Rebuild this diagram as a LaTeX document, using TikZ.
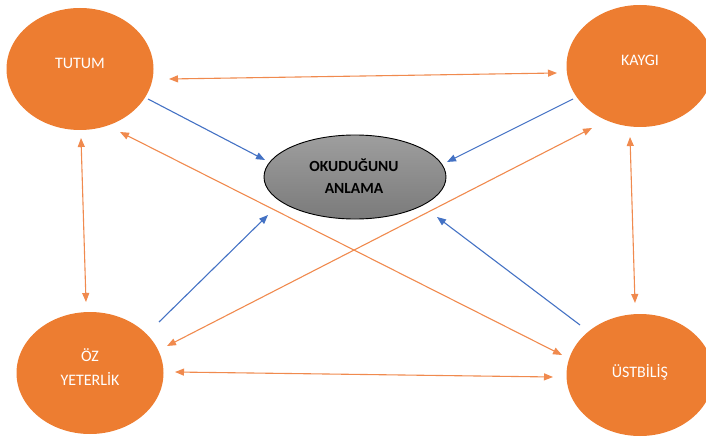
\documentclass[tikz,border=0pt]{standalone}
\usepackage{fontspec}
\setmainfont{Carlito}
\usetikzlibrary{shapes.geometric,arrows.meta}
\definecolor{offorange}{HTML}{ED7D31}
\definecolor{lineorange}{HTML}{F08A4E}
\definecolor{offblue}{HTML}{4472C4}
\tikzset{
  x=1pt,y=1pt,
  bigell/.style={ellipse, fill=offorange, draw=none, minimum width=147pt, minimum height=122pt, inner sep=0pt},
  lbl/.style={text=white, font=\fontsize{16}{24}\selectfont, align=center, inner sep=0pt},
  ctrell/.style={ellipse, draw=black, line width=0.9pt, top color=black!38, bottom color=black!52, minimum width=182pt, minimum height=84pt, inner sep=0pt},
  ctrlbl/.style={text=black, font=\bfseries\fontsize{15.5}{22}\selectfont, align=center, inner sep=0pt},
  dbl/.style={draw=lineorange, line width=1.1pt, {Triangle[length=9pt,width=7pt]}-{Triangle[length=9pt,width=7pt]}},
  blu/.style={draw=offblue, line width=1.1pt, -{Triangle[length=9pt,width=7pt]}}
}
\begin{document}
\begin{tikzpicture}
\useasboundingbox (0,0) rectangle (706,437);
% main nodes
\node[bigell] (tutum) at (80,368) {};
\node[bigell] (kaygi) at (640,371) {};
\node[bigell] (oz) at (90,64) {};
\node[bigell] (ust) at (640,62) {};
\node[ctrell] (ctr) at (355,260) {};
% labels
\node[lbl] (tutumT) at (80,374) {TUTUM};
\node[lbl] (kaygiT) at (640,377) {KAYGI};
\node[lbl] (ozT) at (90,70) {ÖZ\\YETERLİK};
\node[lbl] (ustT) at (640,65) {ÜSTBİLİŞ};
\node[ctrlbl] (ctrT) at (354,261) {OKUDUĞUNU\\ANLAMA};
% arrow end points
\coordinate (tk1) at (169,358); \coordinate (tk2) at (557,364);
\coordinate (to1) at (81,299);  \coordinate (to2) at (86,135);
\coordinate (ku1) at (630,300); \coordinate (ku2) at (635,134);
\coordinate (ou1) at (175,65);  \coordinate (ou2) at (553,60);
\coordinate (tu1) at (120,305); \coordinate (tu2) at (562,82);
\coordinate (ko1) at (592,309); \coordinate (ko2) at (167,91);
\coordinate (bt) at (148,338);  \coordinate (btc) at (265,277);
\coordinate (bk) at (573,338);  \coordinate (bkc) at (447,275);
\coordinate (bo) at (159,115);  \coordinate (boc) at (268,222);
\coordinate (bu) at (580,112);  \coordinate (buc) at (437,220);
% orange double arrows
\draw[dbl] (tk1) -- (tk2);
\draw[dbl] (to1) -- (to2);
\draw[dbl] (ku1) -- (ku2);
\draw[dbl] (ou1) -- (ou2);
\draw[dbl] (tu1) -- (tu2);
\draw[dbl] (ko1) -- (ko2);
% blue arrows
\draw[blu] (bt) -- (btc);
\draw[blu] (bk) -- (bkc);
\draw[blu] (bo) -- (boc);
\draw[blu] (bu) -- (buc);
\end{tikzpicture}
\end{document}
